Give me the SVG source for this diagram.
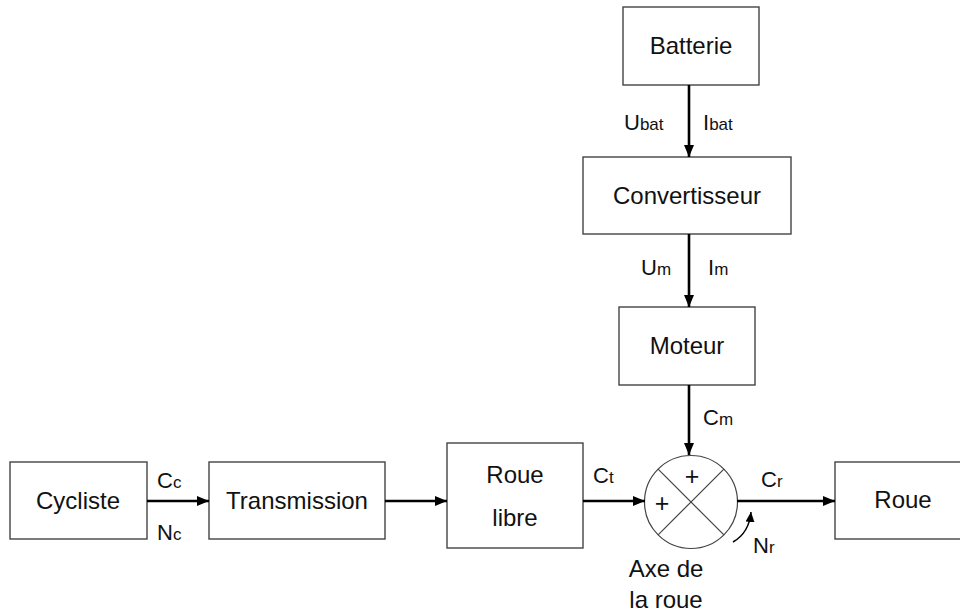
<svg xmlns="http://www.w3.org/2000/svg" width="960" height="612" viewBox="0 0 960 612">
<style>
.box{fill:#fff;stroke:#444;stroke-width:1.4}
.t{font-family:"Liberation Sans",Arial,sans-serif;font-size:24px;fill:#111;text-anchor:middle}
.l{font-family:"Liberation Sans",Arial,sans-serif;font-size:22px;fill:#111}
.s{font-size:17px}
.w{stroke:#000;stroke-width:2.6;fill:none}
.thin{stroke:#444;stroke-width:1.2;fill:none}
</style>
<defs>
<marker id="ah" markerWidth="12" markerHeight="10" refX="12" refY="5" orient="auto" markerUnits="userSpaceOnUse">
<path d="M0,0 L12,5 L0,10 Z" fill="#000"/>
</marker>
<marker id="ah2" markerWidth="10" markerHeight="9" refX="10" refY="4.5" orient="auto" markerUnits="userSpaceOnUse">
<path d="M0,0 L10,4.5 L0,9 Z" fill="#000"/>
</marker>
</defs>
<rect width="960" height="612" fill="#fff"/>
<g id="batterie"><rect class="box" x="623" y="7" width="136" height="78"/><text class="t" x="691" y="54">Batterie</text></g>
<g id="convertisseur"><rect class="box" x="583" y="157" width="208" height="77"/><text class="t" x="687" y="204">Convertisseur</text></g>
<g id="moteur"><rect class="box" x="619" y="307" width="136" height="78"/><text class="t" x="687" y="354">Moteur</text></g>
<g id="cycliste"><rect class="box" x="10" y="462" width="137" height="77"/><text class="t" x="78" y="509">Cycliste</text></g>
<g id="transmission"><rect class="box" x="209" y="462" width="176" height="77"/><text class="t" x="297" y="509">Transmission</text></g>
<g id="roue-libre"><rect class="box" x="447" y="443" width="136" height="105"/><text class="t" x="515" y="483">Roue</text><text class="t" x="515" y="526">libre</text></g>
<g id="roue"><rect class="box" x="835" y="462" width="136" height="77"/><text class="t" x="903" y="508">Roue</text></g>
<g id="axe">
<circle cx="691" cy="502" r="46.5" fill="#fff" stroke="#444" stroke-width="1.2"/>
<line class="thin" x1="658.1" y1="469.1" x2="723.9" y2="534.9"/>
<line class="thin" x1="723.9" y1="469.1" x2="658.1" y2="534.9"/>
<text class="t" x="692" y="485" style="font-size:25px">+</text>
<text class="t" x="662" y="512" style="font-size:25px">+</text>
<text class="t" x="666" y="577">Axe de</text>
<text class="t" x="666" y="608">la roue</text>
</g>
<g id="connectors">
<line class="w" x1="689" y1="85" x2="689" y2="157" marker-end="url(#ah)"/>
<line class="w" x1="689" y1="234" x2="689" y2="307" marker-end="url(#ah)"/>
<line class="w" x1="689" y1="385" x2="689" y2="455" marker-end="url(#ah)"/>
<line class="w" x1="147" y1="501" x2="209" y2="501" marker-end="url(#ah)"/>
<line class="w" x1="385" y1="501" x2="447" y2="501" marker-end="url(#ah)"/>
<line class="w" x1="583" y1="501" x2="645" y2="501" marker-end="url(#ah)"/>
<line class="w" x1="737" y1="501" x2="835" y2="501" marker-end="url(#ah)"/>
<path d="M733,542 Q749,533 751,512" stroke="#000" stroke-width="1.5" fill="none" marker-end="url(#ah2)"/>
</g>
<g id="labels">
<text class="l" x="624" y="130">U<tspan class="s">bat</tspan></text>
<text class="l" x="703" y="130">I<tspan class="s">bat</tspan></text>
<text class="l" x="641" y="275">U<tspan class="s">m</tspan></text>
<text class="l" x="708" y="275">I<tspan class="s">m</tspan></text>
<text class="l" x="703" y="425">C<tspan class="s">m</tspan></text>
<text class="l" x="157" y="488">C<tspan class="s">c</tspan></text>
<text class="l" x="157" y="540">N<tspan class="s">c</tspan></text>
<text class="l" x="593" y="483">C<tspan class="s">t</tspan></text>
<text class="l" x="761" y="487">C<tspan class="s">r</tspan></text>
<text class="l" x="753" y="553">N<tspan class="s">r</tspan></text>
</g>
</svg>
